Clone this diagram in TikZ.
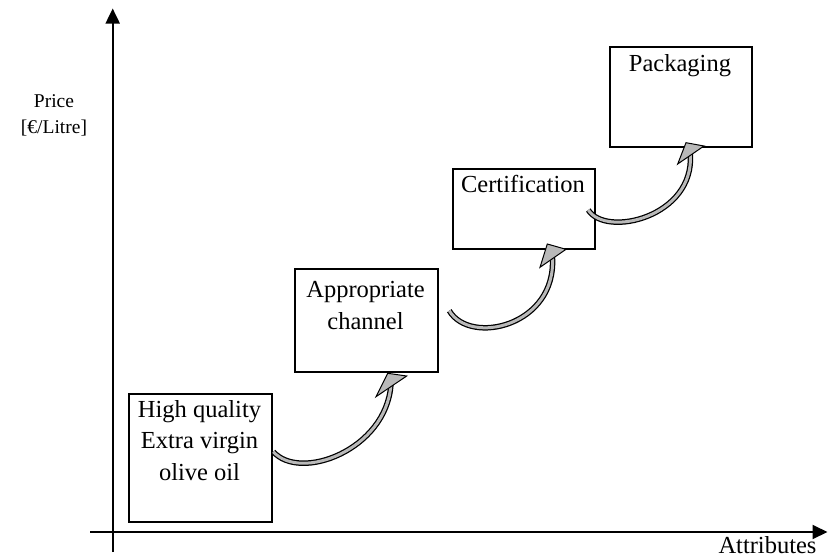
\documentclass[tikz,border=0pt]{standalone}
\usepackage{fontspec}
\setmainfont{Liberation Serif}
\usetikzlibrary{arrows.meta}
\definecolor{shaftgray}{RGB}{185,185,185}
\begin{document}
\begin{tikzpicture}[x=1pt,y=-1pt,
  box/.style={draw, line width=1.5pt, inner sep=0pt, anchor=north west},
  lbl/.style={font=\fontsize{24.5}{31.7}\selectfont, align=center, inner sep=0pt, anchor=north},
  axlbl/.style={font=\fontsize{19.5}{26}\selectfont, align=center, inner sep=0pt},
  axis/.style={line width=2pt, -{Triangle[length=15pt,width=14pt]}},
  shaft/.style={line width=3pt, draw=shaftgray, preaction={draw=black, line width=5.5pt}},
  headtri/.style={fill=shaftgray, draw=black, line width=1pt, line join=miter}
]
\useasboundingbox (0,0) rectangle (828,560);
% axes
\coordinate (ybot) at (112.7,552);
\coordinate (ytop) at (112.7,8.5);
\coordinate (xl) at (90,532);
\coordinate (xr) at (827.5,532);
\draw[axis] (ybot) -- (ytop);
\draw[axis] (xl) -- (xr);
\node[axlbl, anchor=north] (ylab) at (54,94) {Price\\{[€/Litre]}};
\node[lbl, anchor=base] (xlab) at (767.5,553) {Attributes};
% boxes
\node[box, minimum width=143pt, minimum height=128pt] (b1) at (128,393) {};
\node[box, minimum width=143pt, minimum height=103pt] (b2) at (294,268) {};
\node[box, minimum width=142pt, minimum height=80pt] (b3) at (452,168) {};
\node[box, minimum width=142pt, minimum height=100pt] (b4) at (609,46) {};
\node[lbl] (t1) at (199.5,400) {High quality\\Extra virgin\\olive oil};
\node[lbl] (t2) at (365.5,281.3) {Appropriate\\channel};
\node[lbl] (t3) at (523,175) {Certification};
\node[lbl] (t4) at (680,54) {Packaging};
% curved arrow 1
\coordinate (s1) at (273.3,451.7);
\coordinate (e1) at (390.9,384.9);
\coordinate (h1a) at (387.7,373.3);
\coordinate (h1b) at (406.7,376);
\coordinate (h1c) at (376,396.7);
\draw[shaft] (s1) .. controls (300,482) and (386,450) .. (e1);
\filldraw[headtri] (h1a) -- (h1b) -- (h1c) -- cycle;
% curved arrow 2
\coordinate (s2) at (449.3,310.7);
\coordinate (e2) at (552.4,256.9);
\coordinate (h2a) at (547.3,244);
\coordinate (h2b) at (566,249.3);
\coordinate (h2c) at (540,267.3);
\draw[shaft] (s2) .. controls (470,346) and (557,326) .. (e2);
\filldraw[headtri] (h2a) -- (h2b) -- (h2c) -- cycle;
% curved arrow 3
\coordinate (s3) at (588.3,210);
\coordinate (e3) at (690.3,153.8);
\coordinate (h3a) at (686,142.7);
\coordinate (h3b) at (704,146);
\coordinate (h3c) at (677.7,164);
\draw[shaft] (s3) .. controls (606,238) and (695,217) .. (e3);
\filldraw[headtri] (h3a) -- (h3b) -- (h3c) -- cycle;
\end{tikzpicture}
\end{document}
